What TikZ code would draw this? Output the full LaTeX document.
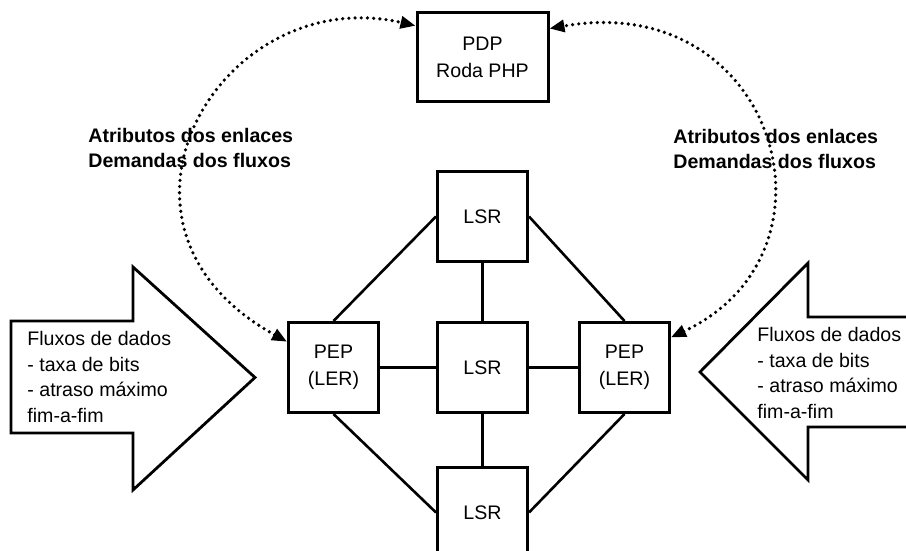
\documentclass[tikz,border=0pt]{standalone}
\usepackage{fontspec}
\setmainfont{Liberation Sans}
\usetikzlibrary{arrows.meta, positioning}

\begin{document}
\begin{tikzpicture}[
    x=0.5pt, y=0.5pt,
    every node/.style={font=\fontsize{9.8pt}{13.5pt}\selectfont},
    box/.style={draw, line width=1.5pt, minimum width=45pt, minimum height=45pt, align=center, inner sep=0pt},
    link/.style={line width=1.3pt},
    dotlink/.style={line width=1.8pt, dash pattern=on 0pt off 3.1pt, line cap=round, {Triangle[length=7.5pt,width=6pt]}-{Triangle[length=7.5pt,width=6pt]}},
    bigarrow/.style={draw, line width=1.4pt, line join=miter},
    flowtext/.style={anchor=north west, align=left, inner sep=0pt, font=\fontsize{9.8pt}{12.75pt}\selectfont},
    tag/.style={anchor=north west, align=left, inner sep=0pt, font=\fontsize{9.8pt}{12.5pt}\selectfont\bfseries}
]
    \clip (0,0) rectangle (906,551);

    \node[box] (lsrc) at (482.5,183.5) {LSR};
    \node[box, above=29pt of lsrc] (lsrt) {LSR};
    \node[box, below=26pt of lsrc] (lsrb) {LSR};
    \node[box, left=28pt of lsrc] (pepl) {PEP\\(LER)};
    \node[box, right=24.5pt of lsrc] (pepr) {PEP\\(LER)};
    \node[box, minimum width=65.5pt, minimum height=44.5pt, above=33.5pt of lsrt] (pdp) {PDP\\Roda PHP};

    \draw[link] (lsrt.west) -- (pepl.north);
    \draw[link] (lsrt.east) -- (pepr.north);
    \draw[link] (lsrt) -- (lsrc);
    \draw[link] (pepl) -- (lsrc);
    \draw[link] (lsrc) -- (pepr);
    \draw[link] (lsrc) -- (lsrb);
    \draw[link] (pepl.south) -- (lsrb.west);
    \draw[link] (pepr.south) -- (lsrb.east);

    % policy exchange
    \node[tag] (attl) at (88,423) {Atributos dos enlaces\\Demandas dos fluxos};
    \node[tag] (attr) at (673,422) {Atributos dos enlaces\\Demandas dos fluxos};
    \draw[dotlink] (pepl.151) .. controls +(151:120pt) and +(167:100pt) .. (pdp.155);
    \draw[dotlink] (pepr.33) .. controls +(25:100pt) and +(10:115pt) .. (pdp.23);

    % incoming flows
    \draw[bigarrow] (11,230) -- (133,230) -- (133,284) -- (255,173.5) -- (133,61) -- (133,118) -- (11,118) -- cycle;
    \draw[bigarrow] (920,234) -- (808,234) -- (808,288) -- (700,179) -- (808,71) -- (808,124) -- (920,124);
    \node[flowtext] (flowl) at (27,220) {Fluxos de dados\\- taxa de bits\\- atraso máximo\\fim-a-fim};
    \node[flowtext] (flowr) at (757,224) {Fluxos de dados\\- taxa de bits\\- atraso máximo\\fim-a-fim};
\end{tikzpicture}
\end{document}
